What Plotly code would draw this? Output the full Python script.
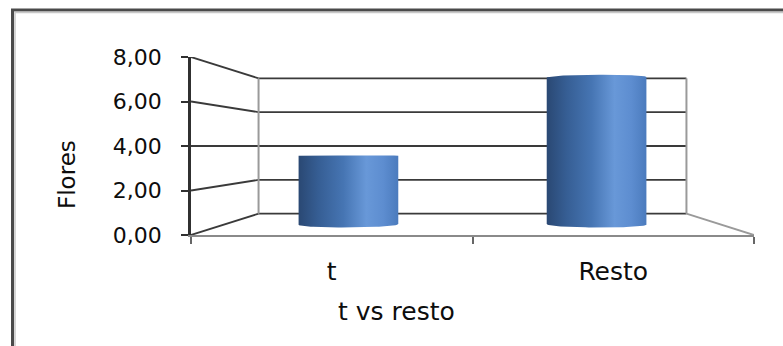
import math
import plotly.graph_objects as go

# ---- data -------------------------------------------------------------
categories = ["t", "Resto"]
flores = [3.5, 7.5]
y_ticks = [0, 2, 4, 6, 8]
x_title = "t vs resto"
y_title = "Flores"

# ---- pseudo-3D projection (front plane = the visible axes) -------------
S_BACK = 0.76      # size of the back wall relative to the front plane
EYE_V = 4.0        # value lying at eye level (its side line is horizontal)
X_MID = 0.5        # horizontal vanishing centre, in category units
BAR_DEPTH = 0.5    # cylinders stand half-way into the box
RX, RD = 0.20, 0.15
X_LO, X_HI = -0.5, 1.5


def project(x, v, d):
    s = 1 - d * (1 - S_BACK)
    return X_MID + (x - X_MID) * s, EYE_V + (v - EYE_V) * s


def hull(points):
    pts = sorted(set(points))
    def cross(o, a, b):
        return (a[0] - o[0]) * (b[1] - o[1]) - (a[1] - o[1]) * (b[0] - o[0])
    lower, upper = [], []
    for p in pts:
        while len(lower) >= 2 and cross(lower[-2], lower[-1], p) <= 0:
            lower.pop()
        lower.append(p)
    for p in reversed(pts):
        while len(upper) >= 2 and cross(upper[-2], upper[-1], p) <= 0:
            upper.pop()
        upper.append(p)
    return lower[:-1] + upper[:-1]


def cylinder(xc, value, n=90):
    pts = []
    for k in range(n):
        t = 2 * math.pi * k / n
        x = xc + RX * math.cos(t)
        d = BAR_DEPTH + RD * math.sin(t)
        for v in (0.0, value):
            px, pv = project(x, v, d)
            pts.append((round(px, 6), round(pv, 6)))
    h = hull(pts)
    h.append(h[0])
    return [p[0] for p in h], [p[1] for p in h]


def segments(pairs):
    xs, ys = [], []
    for (a, b) in pairs:
        xa, ya = project(*a)
        xb, yb = project(*b)
        xs += [xa, xb, None]
        ys += [ya, yb, None]
    return xs, ys


fig = go.Figure()

# back wall grid lines and the side-wall lines running to the front axis
grid_pairs = [((X_LO, v, 1), (X_HI, v, 1)) for v in y_ticks]
side_pairs = [((X_LO, v, 0), (X_LO, v, 1)) for v in y_ticks]
gx, gy = segments(grid_pairs + side_pairs)
fig.add_trace(go.Scatter(x=gx, y=gy, xaxis="x2", yaxis="y", mode="lines",
                         line=dict(color="#3a3a3a", width=1.8),
                         hoverinfo="skip"))

# back wall vertical edges and right floor edge
edge_pairs = [((X_LO, 0, 1), (X_LO, y_ticks[-1], 1)),
              ((X_HI, 0, 1), (X_HI, y_ticks[-1], 1)),
              ((X_HI, 0, 0), (X_HI, 0, 1))]
ex, ey = segments(edge_pairs)
fig.add_trace(go.Scatter(x=ex, y=ey, xaxis="x2", yaxis="y", mode="lines",
                         line=dict(color="#9a9a9a", width=2),
                         hoverinfo="skip"))

# cylinders
shade = [[0.0, "#2a4873"], [0.2, "#365e94"], [0.45, "#4675b3"],
         [0.68, "#6898d8"], [0.85, "#5d8dd0"], [1.0, "#4b7bbd"]]
for i, (cat, val) in enumerate(zip(categories, flores)):
    cx, cy = cylinder(i, val)
    fig.add_trace(go.Scatter(x=cx, y=cy, xaxis="x2", yaxis="y", mode="lines",
                             fill="toself", line=dict(width=0),
                             fillgradient=dict(type="horizontal", colorscale=shade),
                             name=cat, hoverinfo="skip"))

# carries the categories for the visible x axis
fig.add_trace(go.Scatter(x=categories, y=flores, xaxis="x", yaxis="y",
                         mode="markers", marker=dict(opacity=0),
                         hoverinfo="skip"))

W, H = 783, 346
L, R, T, B = 191, 29, 57, 111
pw, ph = W - L - R, H - T - B


def px_x(p):
    return (p - L) / pw


def px_y(p):
    return (H - B - p) / ph


fig.update_layout(
    width=W, height=H,
    margin=dict(l=L, r=R, t=T, b=B, pad=0),
    paper_bgcolor="white", plot_bgcolor="white",
    showlegend=False, separators=",.",
    font=dict(family="DejaVu Sans", color="#0d0d0d"),
    xaxis=dict(type="category", categoryorder="array", categoryarray=categories,
               range=[X_LO, X_HI], showgrid=False, zeroline=False,
               showline=True, linecolor="#8a8a8a", linewidth=2,
               ticks="outside", tickson="boundaries", ticklen=7, tickwidth=2,
               tickcolor="#666666", tickfont=dict(size=25),
               ticklabelstandoff=13),
    xaxis2=dict(overlaying="x", anchor="y", range=[X_LO, X_HI], visible=False),
    yaxis=dict(range=[y_ticks[0], y_ticks[-1]], tickvals=y_ticks,
               tickformat=".2f", showgrid=False, zeroline=False,
               showline=True, linecolor="#303030", linewidth=2.5,
               ticks="outside", ticklen=7, tickwidth=2, tickcolor="#303030",
               tickfont=dict(size=22), ticklabelstandoff=15),
    annotations=[
        dict(text=x_title, xref="paper", yref="paper", x=px_x(396), y=px_y(311),
             xanchor="center", yanchor="middle", showarrow=False,
             font=dict(size=25)),
        dict(text=y_title, xref="paper", yref="paper", x=px_x(67), y=px_y(175),
             xanchor="center", yanchor="middle", showarrow=False, textangle=-90,
             font=dict(size=23)),
    ],
    shapes=[
        dict(type="rect", xref="paper", yref="paper",
             x0=px_x(12.5), x1=px_x(W + 20), y0=px_y(H + 20), y1=px_y(10),
             line=dict(color="#4a4a4a", width=3), layer="below"),
        dict(type="rect", xref="paper", yref="paper",
             x0=px_x(15), x1=px_x(W + 20), y0=px_y(H + 20), y1=px_y(12.5),
             line=dict(color="#c8c8c8", width=1.5), layer="below"),
    ],
)

fig.write_html("out.html")
